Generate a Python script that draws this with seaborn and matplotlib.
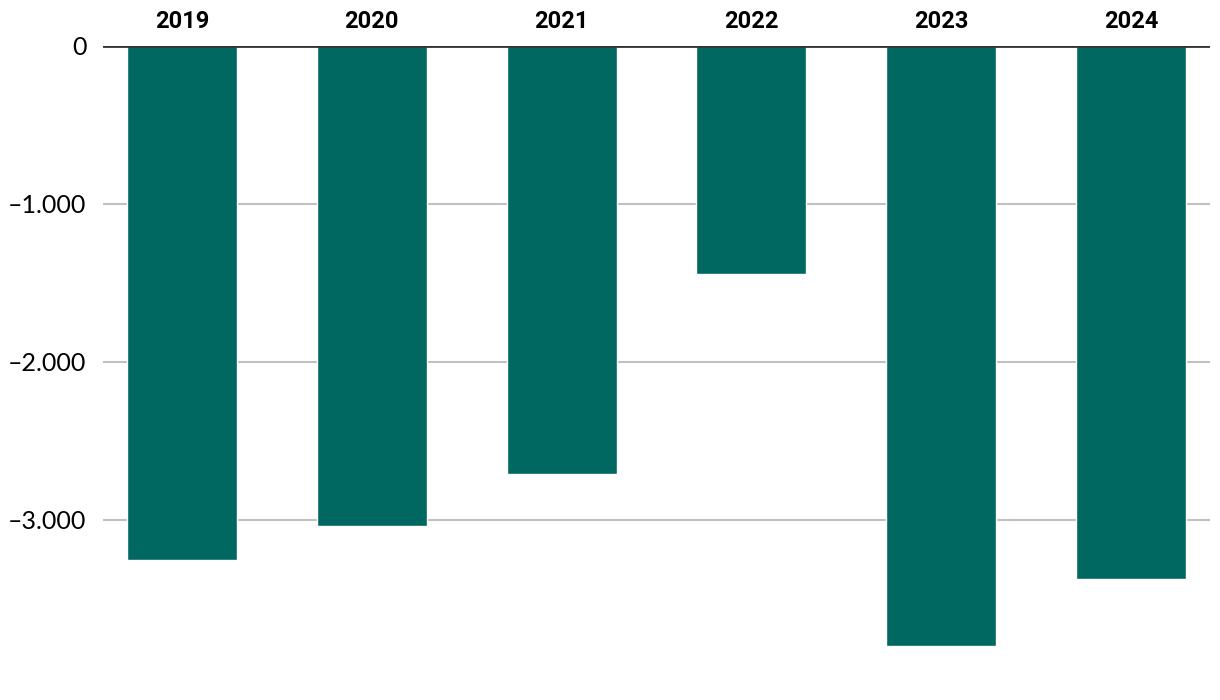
import pandas as pd
import seaborn as sns
import matplotlib.pyplot as plt
from matplotlib.ticker import FuncFormatter

years = ["2019", "2020", "2021", "2022", "2023", "2024"]
values = [-3255, -3040, -2710, -1445, -3800, -3375]

df = pd.DataFrame({"Year": years, "Value": values})

sns.set_style("white")
plt.rcParams["font.family"] = ["Lato", "DejaVu Sans"]

fig = plt.figure(figsize=(12.2, 7), dpi=100)
ax = fig.add_axes([103 / 1220, 1 - 654 / 700, (1210 - 103) / 1220, (654 - 45.5) / 700])

sns.barplot(data=df, x="Year", y="Value", color="#006860", width=0.58,
            saturation=1, ax=ax, zorder=2)

ax.set_ylim(-3850, 0)
ax.set_xlim(-0.416, 5.416)
ax.set_yticks([0, -1000, -2000, -3000])
ax.yaxis.set_major_formatter(FuncFormatter(
    lambda v, p: "0" if v == 0 else f"{v:,.0f}".replace(",", ".").replace("-", "–")))
ax.grid(axis="y", color="#c0c0c0", linewidth=1.5, zorder=0)
ax.axhline(0, color="#333333", linewidth=2, zorder=3)

ax.xaxis.tick_top()
ax.tick_params(axis="x", length=0, pad=9, labelsize=17, labelcolor="black")
ax.tick_params(axis="y", length=0, pad=12, labelsize=18, labelcolor="black")
for lab in ax.get_xticklabels():
    lab.set_fontfamily(["Liberation Sans Narrow", "DejaVu Sans Condensed", "Roboto"])
    lab.set_fontweight("bold")

for s in ax.spines.values():
    s.set_visible(False)
ax.set_xlabel("")
ax.set_ylabel("")

plt.savefig("out.png", dpi=100)
